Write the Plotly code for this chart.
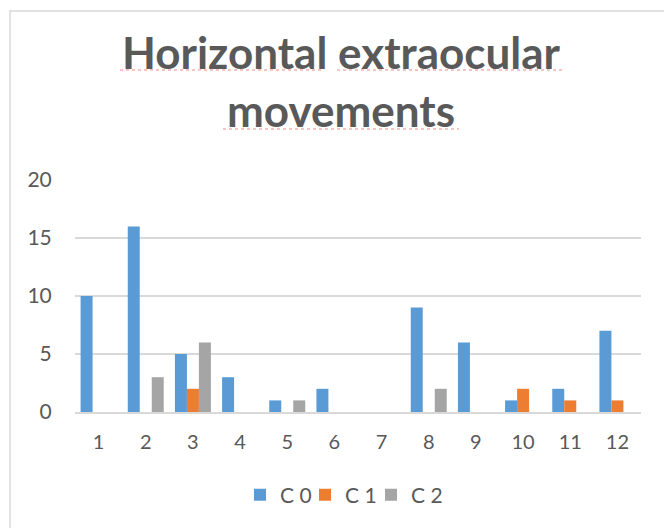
import plotly.graph_objects as go

categories = ["1", "2", "3", "4", "5", "6", "7", "8", "9", "10", "11", "12"]
c0 = [10, 16, 5, 3, 1, 2, 0, 9, 6, 1, 2, 7]
c1 = [0, 0, 2, 0, 0, 0, 0, 0, 0, 2, 1, 1]
c2 = [0, 3, 6, 0, 1, 0, 0, 2, 0, 0, 0, 0]
series_names = ["C 0", "C 1", "C 2"]
y_ticks = [0, 5, 10, 15, 20]

colors = ["#5B9BD5", "#ED7D31", "#A5A5A5"]
FONT = "Lato, Calibri, sans-serif"
TXT = "#595959"

OFF = 8  # page body margin
W, H = 672 - OFF, 528 - OFF
SX0, SX1, SY0, SY1 = 75, 641, 180, 412
L, R = SX0 - OFF, W - (SX1 - OFF)
T, B = SY0 - OFF, H - (SY1 - OFF)
PW, PH = W - L - R, H - T - B

def px(x):
    return (x - SX0) / PW

def py(y):
    return (SY1 - y) / PH

legend_ids = ["legend", "legend2", "legend3"]
legend_left = [240, 305, 371]

fig = go.Figure()
for name, vals, col in zip(series_names, [c0, c1, c2], colors):
    fig.add_trace(go.Bar(
        x=categories, y=vals, name=name, showlegend=False, legendgroup=name,
        marker=dict(color=col, line=dict(width=0)),
    ))
for name, col, lid in zip(series_names, colors, legend_ids):
    fig.add_trace(go.Scatter(
        x=[None], y=[None], mode="markers", name=name, legendgroup=name, legend=lid,
        marker=dict(symbol="square", size=13, color=col, line=dict(width=0)),
        hoverinfo="skip",
    ))

shapes = [
    dict(type="rect", xref="paper", yref="paper",
         x0=px(10), x1=px(669), y0=py(560), y1=py(11),
         line=dict(color="#D9D9D9", width=1.5), fillcolor="rgba(0,0,0,0)", layer="below"),
]
for (xa, xb, yy) in [(120, 324, 70), (337, 562, 70), (223, 459, 129)]:
    shapes.append(dict(type="line", xref="paper", yref="paper",
                       x0=px(xa), x1=px(xb), y0=py(yy), y1=py(yy),
                       line=dict(color="#F08A8A", width=1.2, dash="dot")))

annotations = [
    dict(text="<b>Horizontal extraocular</b>", xref="paper", yref="paper",
         x=px(341), y=py(52), xanchor="center", yanchor="middle", showarrow=False,
         font=dict(family=FONT, size=44, color=TXT)),
    dict(text="<b>movements</b>", xref="paper", yref="paper",
         x=px(341), y=py(110), xanchor="center", yanchor="middle", showarrow=False,
         font=dict(family=FONT, size=44, color=TXT)),
]

legend_common = dict(orientation="h", xanchor="left", yanchor="middle", y=py(495),
                     font=dict(family=FONT, size=21, color=TXT),
                     bgcolor="rgba(0,0,0,0)", itemwidth=30, itemsizing="constant")

fig.update_layout(
    width=W, height=H,
    margin=dict(l=L, r=R, t=T, b=B, pad=0, autoexpand=False),
    paper_bgcolor="white", plot_bgcolor="white",
    barmode="group", bargap=0.237, bargroupgap=0,
    font=dict(family=FONT, size=20, color=TXT),
    showlegend=True,
    legend=dict(x=px(legend_left[0]), **legend_common),
    legend2=dict(x=px(legend_left[1]), **legend_common),
    legend3=dict(x=px(legend_left[2]), **legend_common),
    xaxis=dict(showgrid=False, showline=True, linecolor="#D9D9D9", linewidth=2,
               ticks="outside", ticklen=11, tickcolor="rgba(0,0,0,0)",
               tickfont=dict(family=FONT, size=20, color=TXT), fixedrange=True),
    yaxis=dict(range=[0, 20], tickvals=y_ticks, showgrid=True, gridcolor="#D9D9D9",
               gridwidth=2, zeroline=False, showline=False,
               ticks="outside", ticklen=18, tickcolor="rgba(0,0,0,0)",
               tickfont=dict(family=FONT, size=21, color=TXT), fixedrange=True),
    shapes=shapes,
    annotations=annotations,
)

fig.write_html("out.html")
